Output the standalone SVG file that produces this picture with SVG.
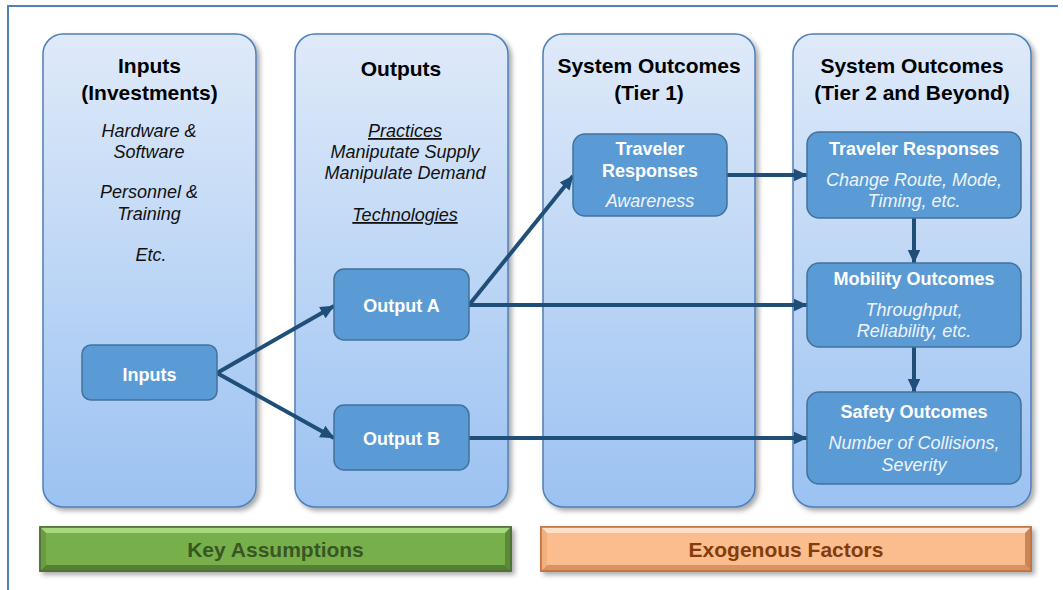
<svg xmlns="http://www.w3.org/2000/svg" width="1063" height="590" viewBox="0 0 1063 590">
<defs>
<linearGradient id="colGrad" x1="0" y1="0" x2="0" y2="1">
<stop offset="0" stop-color="#dfeaf9"/>
<stop offset="1" stop-color="#9bc2f2"/>
</linearGradient>
<filter id="shadow" x="-10%" y="-10%" width="130%" height="130%">
<feDropShadow dx="3" dy="3" stdDeviation="2.5" flood-color="#000" flood-opacity="0.35"/>
</filter>
<marker id="arrow" markerUnits="userSpaceOnUse" markerWidth="14" markerHeight="14" viewBox="0 0 14 14" refX="13.5" refY="7" orient="auto">
<path d="M0,0.5 L14,7 L0,13.5 z" fill="#1f4e79"/>
</marker>
<style>
.col{fill:url(#colGrad);stroke:#4f7fb8;stroke-width:1.5;filter:url(#shadow)}
.node{fill:#5b9bd5;stroke:#41719c;stroke-width:1.5}
.hdr{font-family:"Liberation Sans",Arial,sans-serif;font-weight:bold;font-size:21px;fill:#000;text-anchor:middle}
.it{font-family:"Liberation Sans",Arial,sans-serif;font-style:italic;font-size:18px;fill:#111;text-anchor:middle}
.nt{font-family:"Liberation Sans",Arial,sans-serif;font-weight:bold;font-size:18px;fill:#fff;text-anchor:middle}
.ni{font-family:"Liberation Sans",Arial,sans-serif;font-style:italic;font-size:18px;fill:#eef4fc;text-anchor:middle}
.conn{stroke:#1f4e79;stroke-width:4;fill:none;marker-end:url(#arrow)}
.bar{font-family:"Liberation Sans",Arial,sans-serif;font-weight:bold;font-size:21px;text-anchor:middle}
</style>
</defs>
<rect width="1063" height="590" fill="#fff"/>
<path d="M8,592 V6 H1058" fill="none" stroke="#4f81bd" stroke-width="2"/>

<g id="col-inputs">
<rect class="col" x="43" y="34" width="213" height="473" rx="20"/>
<text class="hdr" x="149.5" y="73">Inputs</text>
<text class="hdr" x="149.5" y="100">(Investments)</text>
<text class="it" x="149" y="137">Hardware &amp;</text>
<text class="it" x="149" y="158">Software</text>
<text class="it" x="149" y="198">Personnel &amp;</text>
<text class="it" x="149" y="220">Training</text>
<text class="it" x="151" y="261">Etc.</text>
</g>
<g id="col-outputs">
<rect class="col" x="295" y="34" width="213" height="473" rx="20"/>
<text class="hdr" x="401" y="76">Outputs</text>
<text class="it" x="405" y="137" text-decoration="underline">Practices</text>
<text class="it" x="405" y="158">Maniputate Supply</text>
<text class="it" x="405" y="179">Manipulate Demand</text>
<text class="it" x="405" y="221" text-decoration="underline">Technologies</text>
</g>
<g id="col-tier1">
<rect class="col" x="543" y="34" width="212" height="473" rx="20"/>
<text class="hdr" x="649" y="73">System Outcomes</text>
<text class="hdr" x="649" y="100">(Tier 1)</text>
</g>
<g id="col-tier2">
<rect class="col" x="793" y="34" width="238" height="473" rx="20"/>
<text class="hdr" x="912" y="73">System Outcomes</text>
<text class="hdr" x="912" y="100">(Tier 2 and Beyond)</text>
</g>

<g id="connectors">
<path class="conn" d="M217,373 L334,306"/>
<path class="conn" d="M217,373 L334,438"/>
<path class="conn" d="M469,305 L573,176"/>
<path class="conn" d="M469,305 L807,305"/>
<path class="conn" d="M727,175 L807,175"/>
<path class="conn" d="M469,438 L807,438"/>
<path class="conn" d="M914,218 L914,263"/>
<path class="conn" d="M914,347 L914,392"/>
</g>

<g id="node-inputs">
<rect class="node" x="82" y="345" width="135" height="55" rx="9"/>
<text class="nt" x="149.5" y="381">Inputs</text>
</g>
<g id="node-outputA">
<rect class="node" x="334" y="269" width="135" height="71" rx="10"/>
<text class="nt" x="401.5" y="312">Output A</text>
</g>
<g id="node-outputB">
<rect class="node" x="334" y="405" width="135" height="65" rx="10"/>
<text class="nt" x="401.5" y="445">Output B</text>
</g>
<g id="node-traveler1">
<rect class="node" x="573" y="134" width="154" height="82" rx="12"/>
<text class="nt" x="650" y="155">Traveler</text>
<text class="nt" x="650" y="177">Responses</text>
<text class="ni" x="650" y="207">Awareness</text>
</g>
<g id="node-traveler2">
<rect class="node" x="807" y="132" width="214" height="86" rx="12"/>
<text class="nt" x="914" y="155">Traveler Responses</text>
<text class="ni" x="914" y="186">Change Route, Mode,</text>
<text class="ni" x="914" y="207">Timing, etc.</text>
</g>
<g id="node-mobility">
<rect class="node" x="807" y="263" width="214" height="84" rx="12"/>
<text class="nt" x="914" y="285">Mobility Outcomes</text>
<text class="ni" x="914" y="316">Throughput,</text>
<text class="ni" x="914" y="337">Reliability, etc.</text>
</g>
<g id="node-safety">
<rect class="node" x="807" y="392" width="214" height="92" rx="12"/>
<text class="nt" x="914" y="418">Safety Outcomes</text>
<text class="ni" x="914" y="449">Number of Collisions,</text>
<text class="ni" x="914" y="471">Severity</text>
</g>

<g id="bar-key">
<rect x="40" y="527" width="471" height="44" fill="#77b04c" stroke="#4d6b33" stroke-width="1.5" filter="url(#shadow)"/>
<polygon points="40,527 511,527 505,533 46,533" fill="#a6d97e"/>
<polygon points="40,571 511,571 505,565 46,565" fill="#557f36"/>
<polygon points="40,527 46,533 46,565 40,571" fill="#6a9c43"/>
<polygon points="511,527 505,533 505,565 511,571" fill="#5a8a3a"/>
<rect x="40" y="527" width="471" height="44" fill="none" stroke="#4d6b33" stroke-width="1.5"/>
<text class="bar" x="275.5" y="557" fill="#375623">Key Assumptions</text>
</g>
<g id="bar-exo">
<rect x="541" y="527" width="490" height="44" fill="#fbbc8e" stroke="#c0703a" stroke-width="1.5" filter="url(#shadow)"/>
<polygon points="541,527 1031,527 1025,533 547,533" fill="#fde0c9"/>
<polygon points="541,571 1031,571 1025,565 547,565" fill="#d99363"/>
<polygon points="541,527 547,533 547,565 541,571" fill="#f2b07f"/>
<polygon points="1031,527 1025,533 1025,565 1031,571" fill="#c98656"/>
<rect x="541" y="527" width="490" height="44" fill="none" stroke="#c0703a" stroke-width="1.5"/>
<text class="bar" x="786" y="557" fill="#843c0c">Exogenous Factors</text>
</g>
</svg>
